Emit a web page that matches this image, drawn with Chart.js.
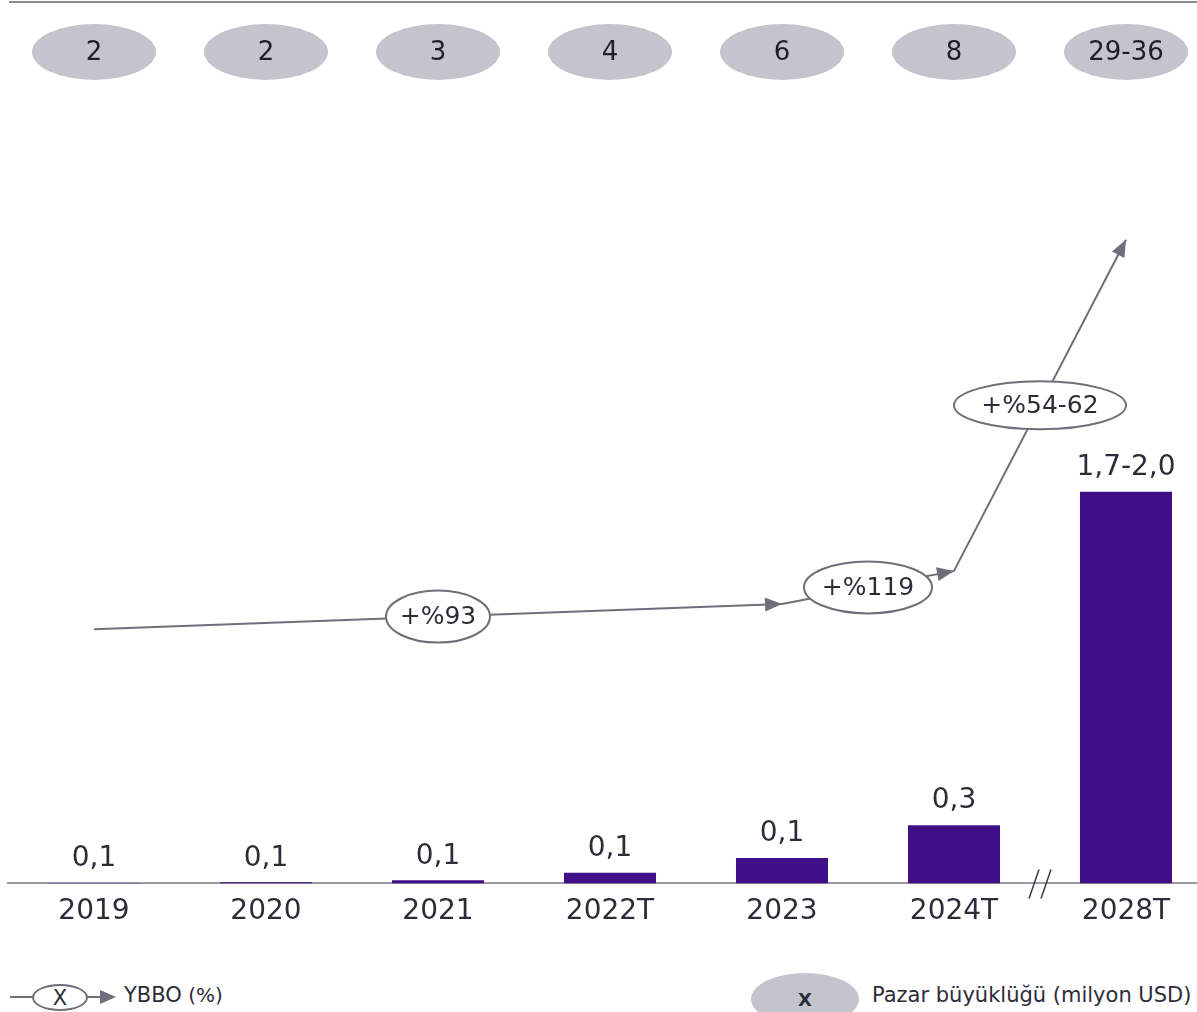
<!DOCTYPE html>
<html>
<head>
<meta charset="utf-8">
<script src="https://cdn.jsdelivr.net/npm/chart.js@4.4.1/dist/chart.umd.min.js"></script>
<style>
  html, body { margin: 0; padding: 0; overflow: hidden; background: #fff; }
  #wrap { position: relative; width: 1212px; height: 1012px; }
  #c { position: absolute; left: 0; top: 0; }
  .lg { position: absolute; font-family: 'DejaVu Sans', sans-serif; color: #2d2d3a; font-size: 21px; white-space: nowrap; }
  .ln { position: absolute; height: 2px; background: #6f6f7b; }
  .ell { position: absolute; border-radius: 50%; box-sizing: border-box; display: flex; align-items: center; justify-content: center; }
  .tri { position: absolute; width: 0; height: 0; border-top: 7px solid transparent; border-bottom: 7px solid transparent; border-left: 16px solid #6f6f7b; }
</style>
</head>
<body>
<div id="wrap">
  <canvas id="c" width="1212" height="960"></canvas>

  <!-- legend left: growth -->
  <div class="ln" style="left:10px; top:996px; width:24px;"></div>
  <div class="ell lg" style="left:32px; top:984px; width:56px; height:27px; border:2px solid #6f6f7b; font-size:21px;">X</div>
  <div class="ln" style="left:87px; top:996px; width:14px;"></div>
  <div class="tri" style="left:100px; top:990px;"></div>
  <div class="lg" style="left:124px; top:983px;">YBBO<span style="font-size:20px"> (%)</span></div>

  <!-- legend right: market size -->
  <div class="ell lg" style="left:751px; top:973px; width:108px; height:52px; background:#c4c4cc; font-weight:700; font-size:18px;">X</div>
  <div class="lg" style="left:872px; top:983px;">Pazar büyüklüğü (milyon USD)</div>
</div>

<script>
const categories = ['2019', '2020', '2021', '2022T', '2023', '2024T', '2028T'];
const marketValues = [0.002, 0.005, 0.015, 0.05, 0.12, 0.275, 1.85];   // milyar USD, bar heights
const valueLabels = ['0,1', '0,1', '0,1', '0,1', '0,1', '0,3', '1,7-2,0'];
const bubbleLabels = ['2', '2', '3', '4', '6', '8', '29-36'];
const trendValues = [1.2, null, null, null, 1.32, 1.476, 3.04];
const growthLabels = ['+%93', '+%119', '+%54-62'];
const growthSizes = [[104, 52], [128, 52], [172, 48]];

const FONT = "'DejaVu Sans', sans-serif";
const TEXT = '#2d2d3a';
const GREY = '#6f6f7b';

/* --- Deko: Blasen oben, Werte, Pfeile, Bruchzeichen --- */
const decoPlugin = {
  id: 'deco',
  afterDatasetsDraw(chart) {
    const { ctx, scales: { x, y }, chartArea } = chart;
    ctx.save();

    // Linie ganz oben
    ctx.strokeStyle = '#8c8c96';
    ctx.lineWidth = 2;
    ctx.beginPath(); ctx.moveTo(9, 2); ctx.lineTo(chart.width, 2); ctx.stroke();

    // Blasen mit Marktgröße
    ctx.textAlign = 'center'; ctx.textBaseline = 'middle';
    bubbleLabels.forEach((t, i) => {
      const cx = x.getPixelForValue(i);
      ctx.fillStyle = '#c4c4cc';
      ctx.beginPath(); ctx.ellipse(cx, 52, 62, 28, 0, 0, Math.PI * 2); ctx.fill();
      ctx.fillStyle = '#1f1f28';
      ctx.font = `400 26px ${FONT}`;
      ctx.fillText(t, cx, 53);
    });

    // Werte über den Balken
    const barMeta = chart.getDatasetMeta(0);
    ctx.fillStyle = TEXT;
    ctx.font = `400 28px ${FONT}`;
    barMeta.data.forEach((bar, i) => {
      ctx.fillText(valueLabels[i], bar.x, Math.min(bar.y, y.getPixelForValue(0) - 1) - 24);
    });

    // Pfeile + YBBO-Ellipsen
    const lineMeta = chart.getDatasetMeta(1);
    const pts = lineMeta.data.filter((p, i) => trendValues[i] !== null);
    for (let k = 0; k < pts.length - 1; k++) {
      const a = pts[k], b = pts[k + 1];
      const ang = Math.atan2(b.y - a.y, b.x - a.x);
      ctx.fillStyle = GREY;
      ctx.beginPath();
      ctx.moveTo(b.x, b.y);
      ctx.lineTo(b.x - 17 * Math.cos(ang) + 7 * Math.sin(ang), b.y - 17 * Math.sin(ang) - 7 * Math.cos(ang));
      ctx.lineTo(b.x - 17 * Math.cos(ang) - 7 * Math.sin(ang), b.y - 17 * Math.sin(ang) + 7 * Math.cos(ang));
      ctx.closePath(); ctx.fill();

      const mx = (a.x + b.x) / 2, my = (a.y + b.y) / 2;
      const [w, h] = growthSizes[k];
      ctx.fillStyle = '#fff';
      ctx.strokeStyle = GREY; ctx.lineWidth = 2;
      ctx.beginPath(); ctx.ellipse(mx, my, w / 2, h / 2, 0, 0, Math.PI * 2); ctx.fill(); ctx.stroke();
      ctx.fillStyle = TEXT;
      ctx.font = `400 25px ${FONT}`;
      ctx.fillText(growthLabels[k], mx, my + 1);
    }

    // Achsenbruch //
    const bx = (x.getPixelForValue(5) + x.getPixelForValue(6)) / 2;
    const by = chartArea.bottom;
    ctx.strokeStyle = '#3a3a44'; ctx.lineWidth = 1.5;
    [-6, 6].forEach(d => {
      ctx.beginPath(); ctx.moveTo(bx + d - 5, by + 15); ctx.lineTo(bx + d + 5, by - 14); ctx.stroke();
    });
    ctx.restore();
  },
};

new Chart(document.getElementById('c').getContext('2d'), {
  data: {
    labels: categories,
    datasets: [
      { type: 'bar', data: marketValues, backgroundColor: '#3e0f86',
        barPercentage: 0.535, categoryPercentage: 1, order: 2 },
      { type: 'line', data: trendValues, spanGaps: true, borderColor: GREY,
        borderWidth: 2, pointRadius: 0, tension: 0, order: 1 },
    ],
  },
  options: {
    responsive: false, animation: false,
    layout: { padding: { top: 100, left: 8, right: 0, bottom: 19 } },
    plugins: { legend: { display: false }, tooltip: { enabled: false } },
    scales: {
      x: {
        grid: { display: false, drawTicks: false },
        border: { display: true, color: '#9a9aa2', width: 2 },
        ticks: { color: TEXT, font: { family: FONT, size: 28 }, padding: 12 },
      },
      y: { display: false, min: 0, max: 3.7 },
    },
  },
  plugins: [decoPlugin],
});
</script>
</body>
</html>
